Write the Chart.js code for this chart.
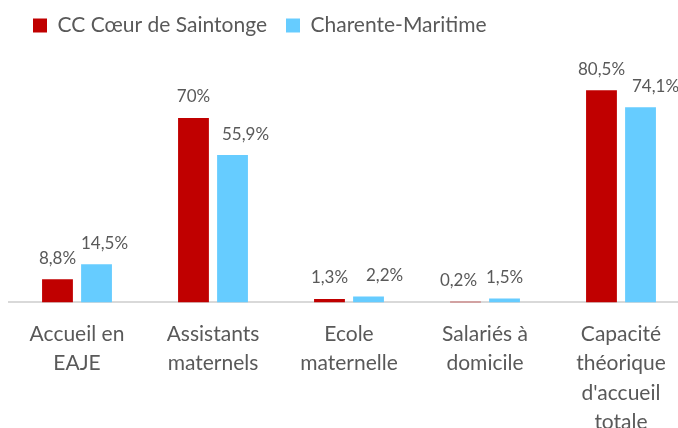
<!DOCTYPE html>
<html>
<head>
<meta charset="utf-8">
<script src="https://cdn.jsdelivr.net/npm/chart.js@4.4.0/dist/chart.umd.min.js"></script>
<style>
  html, body { margin: 0; padding: 0; background: #fff; overflow: hidden; }
  #clip { width: 678px; height: 428px; overflow: hidden; position: relative; }
  /* larger than the window: the last category and the 4-line label run past the edge */
  #wrap { width: 689px; height: 454px; position: relative; }
</style>
</head>
<body>
<div id="clip"><div id="wrap"><canvas id="chart"></canvas></div></div>
<script>
const categories = [
  ["Accueil en", "EAJE"],
  ["Assistants", "maternels"],
  ["Ecole", "maternelle"],
  ["Salariés à", "domicile"],
  ["Capacité", "théorique", "d'accueil", "totale"],
];
const seriesNames = ["CC Cœur de Saintonge", "Charente-Maritime"];
const coeurSaintonge = [8.8, 70, 1.3, 0.2, 80.5];
const charenteMaritime = [14.5, 55.9, 2.2, 1.5, 74.1];

const textColor = "#595959";
const fontFamily = "Lato, 'Open Sans', sans-serif";

// Excel nudged some value labels sideways
const labelShift = [
  [0, 0, 0, -7, 0],
  [8, 13, 16, 0, 15],
];

const valueLabels = {
  id: "valueLabels",
  afterDatasetsDraw(chart) {
    const ctx = chart.ctx;
    ctx.save();
    ctx.font = "17px " + fontFamily;
    ctx.fillStyle = textColor;
    ctx.textAlign = "center";
    ctx.textBaseline = "middle";
    chart.data.datasets.forEach((ds, di) => {
      chart.getDatasetMeta(di).data.forEach((bar, i) => {
        const txt = ds.data[i].toLocaleString("fr-FR") + "%";
        ctx.fillText(txt, bar.x + labelShift[di][i], bar.y - 21);
      });
    });
    ctx.restore();
  },
};

const legendNudge = {
  id: "legendNudge",
  afterLayout(chart) {
    chart.legend.left += 5;
    chart.legend.right += 5;
    chart.legend.top -= 4;
  },
};

new Chart(document.getElementById("chart").getContext("2d"), {
  type: "bar",
  data: {
    labels: categories,
    datasets: [
      {
        label: seriesNames[0],
        data: coeurSaintonge,
        backgroundColor: "#c00000",
        categoryPercentage: 0.574,
        barPercentage: 0.79,
      },
      {
        label: seriesNames[1],
        data: charenteMaritime,
        backgroundColor: "#66ccff",
        categoryPercentage: 0.574,
        barPercentage: 0.79,
      },
    ],
  },
  options: {
    maintainAspectRatio: false,
    responsive: true,
    animation: false,
    layout: { padding: { left: 9, right: 0, top: 0, bottom: 0 } },
    plugins: {
      legend: {
        position: "top",
        align: "start",
        labels: {
          boxWidth: 14,
          boxHeight: 14,
          padding: 19,
          color: textColor,
          font: { family: fontFamily, size: 21 },
        },
      },
      tooltip: { enabled: false },
    },
    scales: {
      x: {
        grid: { display: false, drawTicks: false },
        border: { display: true, color: "#d9d9d9", width: 2 },
        ticks: {
          color: textColor,
          font: { family: fontFamily, size: 21, lineHeight: 1.4 },
          padding: 17,
          maxRotation: 0,
          autoSkip: false,
        },
      },
      y: {
        display: false,
        min: 0,
        max: 95.8,
      },
    },
  },
  plugins: [valueLabels, legendNudge],
});
</script>
</body>
</html>
